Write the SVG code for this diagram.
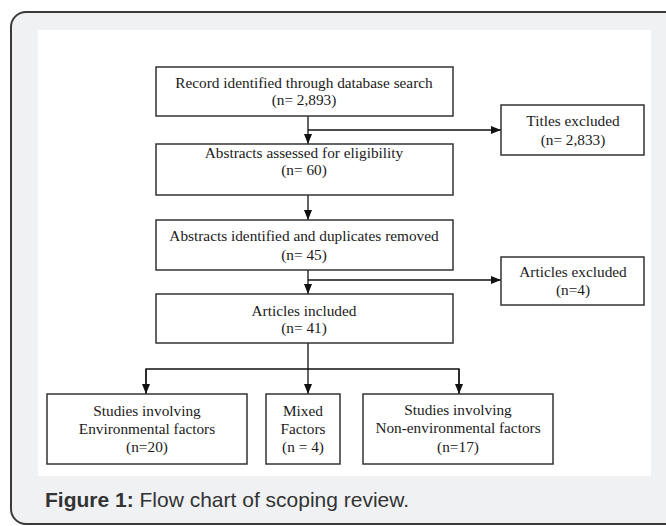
<svg xmlns="http://www.w3.org/2000/svg" width="666" height="526" viewBox="0 0 666 526">
<defs>
<style>
.box{fill:#fff;stroke:#333;stroke-width:1.5}
.t{font-family:"Liberation Serif","Times New Roman",serif;font-size:15.3px;fill:#1a1a1a;text-anchor:middle}
.c{fill:none;stroke:#111;stroke-width:1.3}
.cap{font-family:"Liberation Sans",Arial,sans-serif;font-size:21px;fill:#333}
</style>
<marker id="ah" markerUnits="userSpaceOnUse" markerWidth="10" markerHeight="10" viewBox="0 0 10 10" refX="10" refY="5" orient="auto">
<path d="M0,1 L10,5 L0,9 Z" fill="#111"/>
</marker>
</defs>
<rect x="11" y="12" width="700" height="512" rx="15" fill="#f0f1f3" stroke="#3a3a3a" stroke-width="2"/>
<rect x="38" y="30" width="613" height="446" fill="#fff"/>
<g id="connectors">
<line class="c" x1="308" y1="116" x2="308" y2="144" marker-end="url(#ah)"/>
<line class="c" x1="308" y1="130" x2="501" y2="130" marker-end="url(#ah)"/>
<line class="c" x1="308" y1="195" x2="308" y2="220" marker-end="url(#ah)"/>
<line class="c" x1="308" y1="270" x2="308" y2="294" marker-end="url(#ah)"/>
<line class="c" x1="308" y1="280" x2="501" y2="280" marker-end="url(#ah)"/>
<line class="c" x1="308" y1="343" x2="308" y2="394" marker-end="url(#ah)"/>
<polyline class="c" points="146,394 146,369 459,369 459,394"/>
<line class="c" x1="146" y1="369" x2="146" y2="394" marker-end="url(#ah)"/>
<line class="c" x1="459" y1="369" x2="459" y2="394" marker-end="url(#ah)"/>
</g>
<g id="n1"><rect class="box" x="156" y="67" width="297" height="49"/>
<text class="t" x="304" y="88">Record identified through database search</text>
<text class="t" x="304" y="105">(n= 2,893)</text></g>
<g id="n2"><rect class="box" x="156" y="144" width="297" height="51"/>
<text class="t" x="304" y="158">Abstracts assessed for eligibility</text>
<text class="t" x="304" y="175">(n= 60)</text></g>
<g id="n3"><rect class="box" x="156" y="220" width="297" height="50"/>
<text class="t" x="304" y="241">Abstracts identified and duplicates removed</text>
<text class="t" x="304" y="260">(n= 45)</text></g>
<g id="n4"><rect class="box" x="156" y="294" width="297" height="49"/>
<text class="t" x="304" y="316">Articles included</text>
<text class="t" x="304" y="333">(n= 41)</text></g>
<g id="n5"><rect class="box" x="501" y="105" width="143" height="50"/>
<text class="t" x="573" y="126">Titles excluded</text>
<text class="t" x="573" y="145">(n= 2,833)</text></g>
<g id="n6"><rect class="box" x="501" y="257" width="143" height="48"/>
<text class="t" x="573" y="277">Articles excluded</text>
<text class="t" x="573" y="295">(n=4)</text></g>
<g id="n7"><rect class="box" x="47" y="394" width="200" height="70"/>
<text class="t" x="147" y="416">Studies involving</text>
<text class="t" x="147" y="434">Environmental factors</text>
<text class="t" x="147" y="452">(n=20)</text></g>
<g id="n8"><rect class="box" x="266" y="394" width="74" height="70"/>
<text class="t" x="303" y="416">Mixed</text>
<text class="t" x="303" y="434">Factors</text>
<text class="t" x="303" y="452">(n = 4)</text></g>
<g id="n9"><rect class="box" x="363" y="394" width="190" height="70"/>
<text class="t" x="458" y="415">Studies involving</text>
<text class="t" x="458" y="433">Non-environmental factors</text>
<text class="t" x="458" y="452">(n=17)</text></g>
<text class="cap" x="45" y="507"><tspan font-weight="bold">Figure 1:</tspan> Flow chart of scoping review.</text>
</svg>
